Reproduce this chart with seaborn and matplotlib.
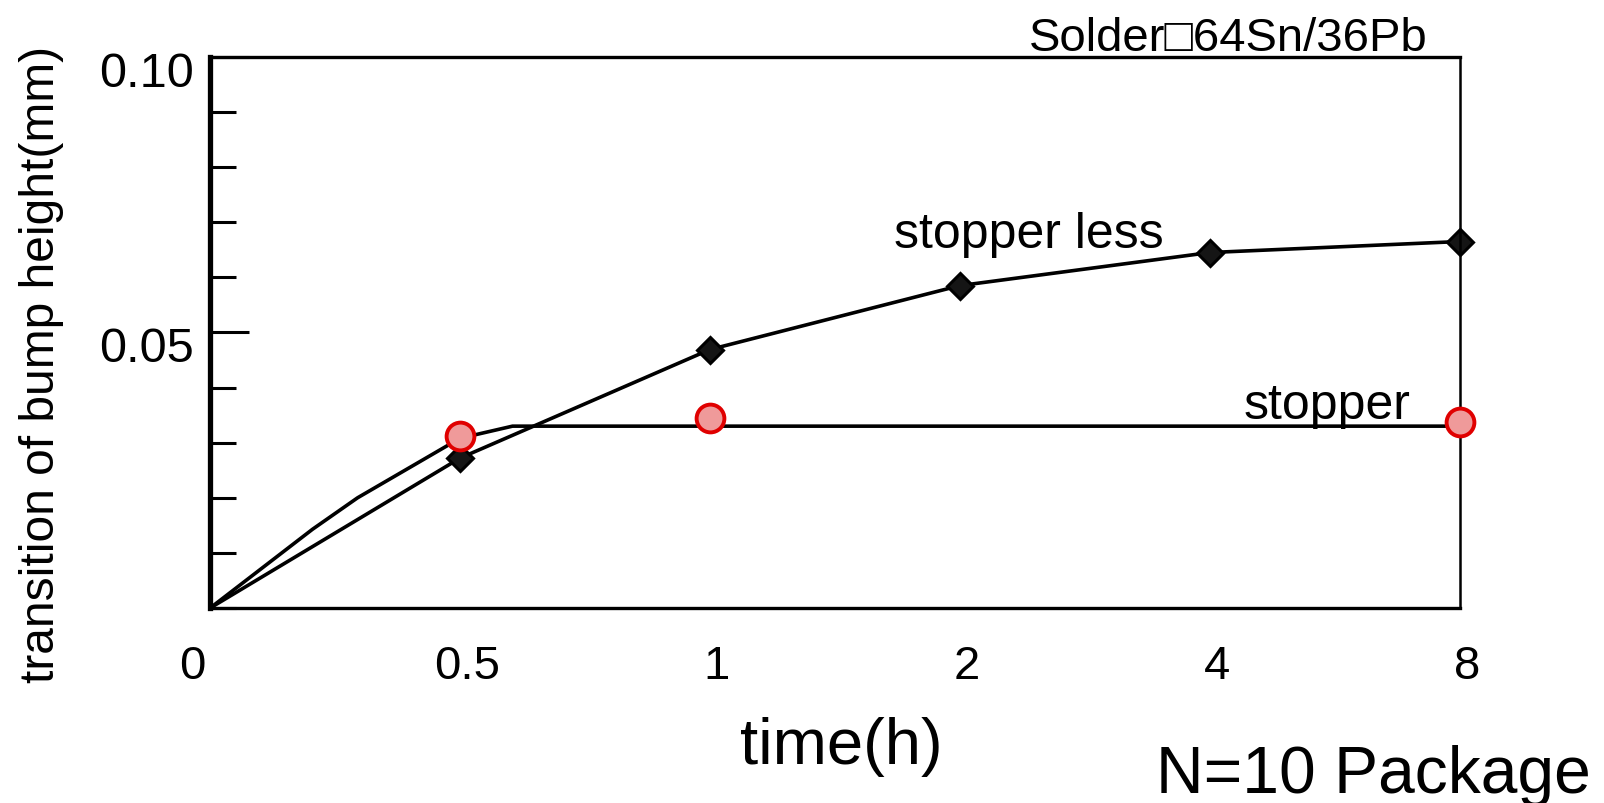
import matplotlib
matplotlib.use("Agg")
import matplotlib.pyplot as plt
import matplotlib.transforms as mtransforms
from matplotlib.ticker import MultipleLocator
import pandas as pd
import seaborn as sns

# ----------------------------
# Data
# ----------------------------
time_labels = ["0", "0.5", "1", "2", "4", "8"]
stopper_less = [0.0, 0.0272, 0.0469, 0.0585, 0.0645, 0.0665]

stopper_times = ["0.5", "1", "8"]
stopper_vals = [0.0312, 0.0345, 0.0338]

# fitted stopper curve, x in category positions
stopper_fit_x = [0.0, 0.41, 0.59, 1.0, 1.21, 5.0]
stopper_fit_y = [0.0, 0.0143, 0.0200, 0.0308, 0.0330, 0.0330]

pos = {t: i for i, t in enumerate(time_labels)}
df_less = pd.DataFrame({"x": [pos[t] for t in time_labels], "y": stopper_less})
df_stop = pd.DataFrame({"x": [pos[t] for t in stopper_times], "y": stopper_vals})
df_fit = pd.DataFrame({"x": stopper_fit_x, "y": stopper_fit_y})

# ----------------------------
# Style
# ----------------------------
sns.set_theme(style="white")
plt.rcParams["font.family"] = ["Liberation Sans", "DejaVu Sans"]
plt.rcParams["text.color"] = "black"
plt.rcParams["axes.labelcolor"] = "black"
plt.rcParams["xtick.color"] = "black"
plt.rcParams["ytick.color"] = "black"

fig = plt.figure(figsize=(16.04, 8.04), dpi=100)
ax = fig.add_axes([0.131, 0.2425, 0.779, 0.6855])

# ----------------------------
# Plot
# ----------------------------
sns.lineplot(data=df_fit, x="x", y="y", ax=ax, color="black", lw=2.6)
# no marker at the origin
sns.lineplot(data=df_less, x="x", y="y", ax=ax, color="black", lw=2.6,
             marker="D", markersize=13, markerfacecolor="#151515",
             markeredgecolor="black", markeredgewidth=2.2, clip_on=False,
             markevery=list(range(1, len(time_labels))))
sns.scatterplot(data=df_stop, x="x", y="y", ax=ax, s=400, marker="o",
                color="#ef9a9a", edgecolor="#e00000", linewidth=2.8,
                zorder=5, clip_on=False)

ax.set_xlim(0, 5)
ax.set_ylim(0, 0.1)

ax.set_xticks(range(len(time_labels)))
ax.set_xticklabels(time_labels, fontsize=34)
ax.tick_params(axis="x", length=0, pad=26)
for i, lab in enumerate(ax.get_xticklabels()):
    dx = -18 if i == 0 else 7
    lab.set_transform(lab.get_transform() +
                      mtransforms.ScaledTranslation(dx / 100, 0, fig.dpi_scale_trans))

ax.yaxis.set_major_locator(MultipleLocator(0.05))
ax.yaxis.set_minor_locator(MultipleLocator(0.01))
ax.set_yticks([0.05, 0.10])
ax.set_yticklabels(["0.05", "0.10"], fontsize=35)
ax.tick_params(axis="y", which="both", left=True, direction="in")
ax.tick_params(axis="y", which="major", length=28, width=2.2, pad=12)
ax.tick_params(axis="y", which="minor", length=19, width=2.2)
for lab in ax.get_yticklabels():
    lab.set_va("top")
    lab.set_transform(lab.get_transform() +
                      mtransforms.ScaledTranslation(0, 6 / 100, fig.dpi_scale_trans))

for side, w in [("left", 3.8), ("bottom", 2.4), ("top", 2.4), ("right", 1.8)]:
    ax.spines[side].set_linewidth(w)
    ax.spines[side].set_color("black")

ax.set_xlabel("time(h)", fontsize=47, va="center")
ax.xaxis.set_label_coords(0.505, -0.25)
ax.set_ylabel("transition of bump height(mm)", fontsize=34.5, va="center")
ax.yaxis.set_label_coords(-0.135, 0.443)

ax.text(3.276, 0.0655, "stopper less", fontsize=36, ha="center", va="baseline")
ax.text(4.468, 0.0345, "stopper", fontsize=36, ha="center", va="baseline")

fig.text(0.7655, 0.937, "Solder\u25a164Sn/36Pb", fontsize=34, ha="center", va="baseline")
fig.text(0.856, 0.014, "N=10 Package", fontsize=47.5, ha="center", va="baseline")

fig.savefig("out.png", dpi=100)
